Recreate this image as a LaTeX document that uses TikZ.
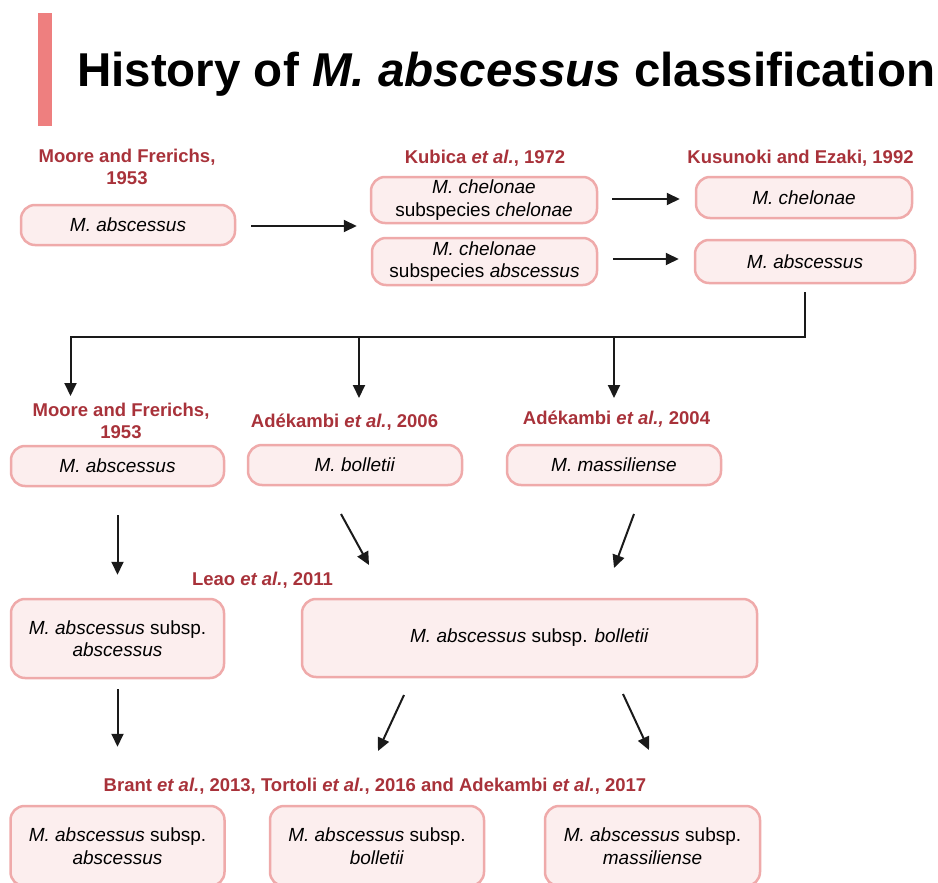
\documentclass[tikz,border=0pt]{standalone}
\usepackage{fontspec}
\setmainfont{Liberation Sans}
\usetikzlibrary{arrows.meta}
\definecolor{barpink}{HTML}{EE7F7F}
\definecolor{labred}{HTML}{A8323A}
\definecolor{boxline}{HTML}{EFAAAA}
\definecolor{boxfill}{HTML}{FCEEEE}
\definecolor{ink}{HTML}{1A1A1A}
\begin{document}
\begin{tikzpicture}[x=1pt,y=-1pt,
  box/.style={draw=boxline, fill=boxfill, line width=2.5pt, rounded corners=14pt, align=center, inner sep=0pt, font=\fontsize{19}{22.5}\selectfont},
  lab/.style={text=labred, font=\fontsize{18.5}{22}\selectfont\bfseries, align=center, inner sep=0pt},
  conn/.style={draw=ink, line width=2pt},
  arr/.style={conn, -{Triangle[length=13pt,width=12pt]}},
]
\useasboundingbox (0,0) rectangle (938,883);
\clip (0,0) rectangle (938,883);

% title
\fill[barpink] (38,13) rectangle (52,126);
\node[anchor=base west, font=\fontsize{47.5}{50}\selectfont\bfseries, inner sep=0pt] (title) at (77,87) {History of \textit{M. abscessus} classification};

% row 1
\node[lab, anchor=north] (l1) at (127,149) {Moore and Frerichs,\\1953};
\node[lab, anchor=base] (l2) at (485,163) {Kubica \textit{et al.}, 1972};
\node[lab, anchor=base] (l3) at (800.5,163) {Kusunoki and Ezaki, 1992};

\node[box, minimum width=214pt, minimum height=40pt] (b1) at (128,225) {\textit{M. abscessus}};
\node[box, minimum width=226pt, minimum height=46pt] (b2) at (484,200) {\textit{M. chelonae}\\subspecies \textit{chelonae}};
\node[box, minimum width=225pt, minimum height=47pt] (b3) at (484.5,261.5) {\textit{M. chelonae}\\subspecies \textit{abscessus}};
\node[box, minimum width=216pt, minimum height=41pt] (b4) at (804,197.5) {\textit{M. chelonae}};
\node[box, minimum width=220pt, minimum height=43pt] (b5) at (805,261.5) {\textit{M. abscessus}};

\draw[arr] ([xshift=15pt,yshift=-1pt]b1.east) -- ([xshift=-13pt,yshift=-1pt]b1.east -| b2.west);
\draw[arr] ([xshift=14pt,yshift=1pt]b2.east) -- ([xshift=-15pt,yshift=1pt]b2.east -| b4.west);
\draw[arr] ([xshift=15pt,yshift=2.5pt]b3.east) -- ([xshift=-15pt,yshift=2.5pt]b3.east -| b5.west);

% bus
\coordinate (j1) at (70.5,337);
\coordinate (j2) at (359,337);
\coordinate (j3) at (614,337);
\coordinate (t1) at (70.5,396);
\coordinate (t2) at (359,398);
\coordinate (t3) at (614,398);
\draw[arr] ([yshift=-8pt]b5.south) |- (j1) -- (t1);
\draw[arr] (j2) -- (t2);
\draw[arr] (j3) -- (t3);

% row 2
\node[lab, anchor=north] (l4) at (121,402.5) {Moore and Frerichs,\\1953};
\node[lab, anchor=base] (l5) at (344.5,427) {Adékambi \textit{et al.}, 2006};
\node[lab, anchor=base] (l6) at (616.5,424) {Adékambi \textit{et al.,} 2004};

\node[box, minimum width=213pt, minimum height=40pt] (c1) at (117.5,466) {\textit{M. abscessus}};
\node[box, minimum width=214pt, minimum height=40pt] (c2) at (355,465) {\textit{M. bolletii}};
\node[box, minimum width=214pt, minimum height=40pt] (c3) at (614,465) {\textit{M. massiliense}};

% row 3
\node[lab, anchor=base] (l7) at (262.5,585) {Leao \textit{et al.}, 2011};
\node[box, minimum width=213pt, minimum height=79pt] (d1) at (117.5,638.5) {\textit{M. abscessus} subsp.\\\textit{abscessus}};
\node[box, minimum width=455pt, minimum height=78pt] (d2) at (529.5,638) {\textit{M. abscessus} subsp. \textit{bolletii}};

\coordinate (s2) at (341,514);
\coordinate (e2) at (369,565);
\coordinate (s3) at (634,514);
\coordinate (e3) at (614,568);
\draw[arr] ([yshift=-28pt]c1.south) -- ([yshift=23pt]d1.north);
\draw[arr] (s2) -- (e2);
\draw[arr] (s3) -- (e3);

% row 4
\node[lab, anchor=base] (l8) at (375,791) {Brant \textit{et al.}, 2013, Tortoli \textit{et al.}, 2016 and Adekambi \textit{et al.}, 2017};
\node[box, minimum width=214pt, minimum height=80pt] (f1) at (117.5,846) {\textit{M. abscessus} subsp.\\\textit{abscessus}};
\node[box, minimum width=214pt, minimum height=80pt] (f2) at (377,846) {\textit{M. abscessus} subsp.\\\textit{bolletii}};
\node[box, minimum width=215pt, minimum height=80pt] (f3) at (652.5,846) {\textit{M. abscessus} subsp.\\\textit{massiliense}};

\coordinate (s5) at (404,695);
\coordinate (e5) at (378,751);
\coordinate (s6) at (623,694);
\coordinate (e6) at (649,750);
\draw[arr] ([yshift=-10pt]d1.south) -- ([yshift=58pt]f1.north);
\draw[arr] (s5) -- (e5);
\draw[arr] (s6) -- (e6);
\end{tikzpicture}
\end{document}
